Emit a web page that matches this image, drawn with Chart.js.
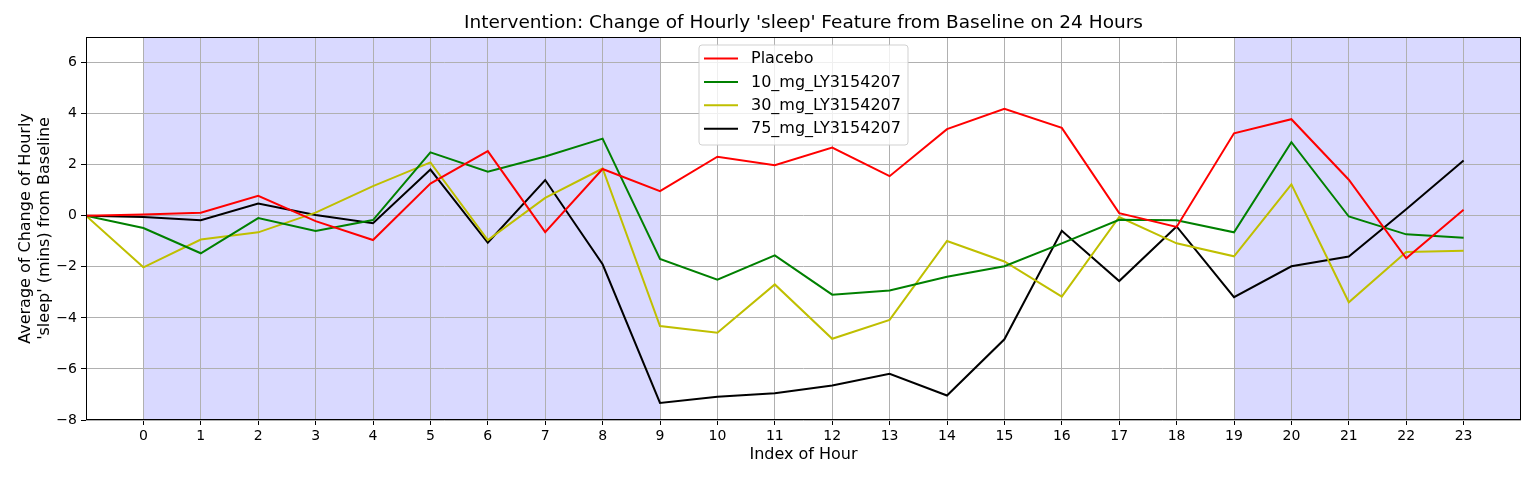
<!DOCTYPE html>
<html>
<head>
<meta charset="utf-8">
<script src="https://cdn.jsdelivr.net/npm/chart.js@4.4.1/dist/chart.umd.min.js"></script>
<style>
html,body{margin:0;padding:0;background:#fff;overflow:hidden;}
canvas{display:block;}
</style>
</head>
<body>
<canvas id="c" width="1536" height="479" style="width:1536px;height:479px"></canvas>
<script>
// ---- data ----
const hours = [-1, 0, 1, 2, 3, 4, 5, 6, 7, 8, 9, 10, 11, 12, 13, 14, 15, 16, 17, 18, 19, 20, 21, 22, 23];
const hourTicks = [0, 1, 2, 3, 4, 5, 6, 7, 8, 9, 10, 11, 12, 13, 14, 15, 16, 17, 18, 19, 20, 21, 22, 23];
const yTicks = [-8, -6, -4, -2, 0, 2, 4, 6];
const seriesNames = ["Placebo", "10_mg_LY3154207", "30_mg_LY3154207", "75_mg_LY3154207"];
const placebo = [0, 0.05, 0.12, 0.78, -0.21, -0.95, 1.26, 2.53, -0.64, 1.83, 0.96, 2.31, 1.98, 2.67, 1.55, 3.39, 4.19, 3.44, 0.10, -0.44, 3.23, 3.78, 1.41, -1.67, 0.23];
const mg10 = [0, -0.48, -1.47, -0.09, -0.60, -0.17, 2.48, 1.72, 2.32, 3.02, -1.69, -2.50, -1.55, -3.09, -2.93, -2.39, -1.98, -1.08, -0.16, -0.18, -0.65, 2.88, -0.03, -0.73, -0.86];
const mg30 = [0, -2.02, -0.93, -0.65, 0.12, 1.16, 2.09, -0.95, 0.70, 1.85, -4.32, -4.58, -2.69, -4.82, -4.08, -0.99, -1.79, -3.17, -0.05, -1.08, -1.59, 1.23, -3.39, -1.42, -1.37];
const mg75 = [0, -0.05, -0.18, 0.48, 0.03, -0.29, 1.81, -1.06, 1.40, -1.90, -7.33, -7.09, -6.95, -6.65, -6.19, -7.04, -4.84, -0.59, -2.56, -0.42, -3.19, -1.98, -1.60, 0.25, 2.16];
const shadeRanges = [[0, 9], [19, 24]];
const seriesColors = ["#ff0000", "#008000", "#bfbf00", "#000000"];

const FONT = "'DejaVu Sans', sans-serif";
const allSeries = [placebo, mg10, mg30, mg75];

const datasets = allSeries.map((vals, i) => ({
  label: seriesNames[i],
  data: hours.map((h, j) => ({x: h, y: vals[j]})),
  borderColor: seriesColors[i],
  backgroundColor: seriesColors[i],
  borderWidth: 2,
  pointRadius: 0,
  tension: 0,
  fill: false
}));

const decor = {
  id: 'decor',
  afterLayout(chart) {
    // centre the title over the plotting area, like the reference
    const a = chart.chartArea;
    if (chart.titleBlock) {
      chart.titleBlock.left = a.left;
      chart.titleBlock.right = a.right;
    }
  },
  beforeDraw(chart) {
    const {ctx, chartArea: a, scales: {x}} = chart;
    ctx.save();
    ctx.fillStyle = 'rgba(0,0,255,0.15)';
    shadeRanges.forEach(([s, e]) => {
      const x0 = x.getPixelForValue(s);
      const x1 = Math.min(x.getPixelForValue(e), a.right);
      ctx.fillRect(x0, a.top, x1 - x0, a.bottom - a.top);
    });
    ctx.restore();
  },
  afterDatasetsDraw(chart) {
    const {ctx, chartArea: a} = chart;
    ctx.save();
    // frame
    ctx.strokeStyle = '#000';
    ctx.lineWidth = 1;
    ctx.strokeRect(Math.round(a.left) + 0.5, Math.round(a.top) + 0.5,
      Math.round(a.right - a.left) - 1, Math.round(a.bottom - a.top) - 1);
    // legend
    const lx = a.left + 613, ly = a.top + 8, lw = 209, lh = 100, r = 3;
    ctx.beginPath();
    ctx.moveTo(lx + r, ly);
    ctx.lineTo(lx + lw - r, ly);
    ctx.quadraticCurveTo(lx + lw, ly, lx + lw, ly + r);
    ctx.lineTo(lx + lw, ly + lh - r);
    ctx.quadraticCurveTo(lx + lw, ly + lh, lx + lw - r, ly + lh);
    ctx.lineTo(lx + r, ly + lh);
    ctx.quadraticCurveTo(lx, ly + lh, lx, ly + lh - r);
    ctx.lineTo(lx, ly + r);
    ctx.quadraticCurveTo(lx, ly, lx + r, ly);
    ctx.closePath();
    ctx.fillStyle = 'rgba(255,255,255,0.8)';
    ctx.fill();
    ctx.strokeStyle = 'rgba(204,204,204,0.9)';
    ctx.lineWidth = 1;
    ctx.stroke();
    ctx.font = '16px ' + FONT;
    ctx.textBaseline = 'middle';
    ctx.textAlign = 'left';
    chart.data.datasets.forEach((ds, i) => {
      const cy = ly + 13.5 + i * 23.4;
      ctx.strokeStyle = ds.borderColor;
      ctx.lineWidth = 2;
      ctx.beginPath();
      ctx.moveTo(lx + 5, cy);
      ctx.lineTo(lx + 39, cy);
      ctx.stroke();
      ctx.fillStyle = '#000';
      ctx.fillText(ds.label, lx + 52, cy + 0.5);
    });
    ctx.restore();
  }
};

const minus = v => String(v).replace('-', '\u2212');

new Chart(document.getElementById('c'), {
  type: 'line',
  data: {datasets},
  plugins: [decor],
  options: {
    responsive: false,
    animation: false,
    devicePixelRatio: 1,
    layout: {padding: {left: 0, right: 15, top: 0, bottom: 0}},
    plugins: {
      legend: {display: false},
      tooltip: {enabled: false},
      title: {
        display: true,
        text: "Intervention: Change of Hourly 'sleep' Feature from Baseline on 24 Hours",
        color: '#000',
        font: {family: FONT, size: 18.5, weight: 'normal', lineHeight: 1.2},
        padding: {top: 12.4, bottom: 2.4}
      }
    },
    scales: {
      x: {
        type: 'linear',
        min: -1,
        max: 24,
        afterBuildTicks: s => { s.ticks = hourTicks.map(v => ({value: v})); },
        afterFit: s => { s.height = 59; },
        ticks: {autoSkip: false, maxRotation: 0, color: '#000', padding: 3,
          font: {family: FONT, size: 14}, callback: v => minus(v)},
        grid: {color: '#b0b0b0', lineWidth: 1, tickLength: 5, tickColor: '#000', tickWidth: 1},
        border: {display: false},
        title: {display: true, text: 'Index of Hour', color: '#000',
          font: {family: FONT, size: 16, lineHeight: 1.2}, padding: {top: 0, bottom: 14.4}}
      },
      y: {
        type: 'linear',
        min: -8,
        max: 7,
        afterBuildTicks: s => { s.ticks = yTicks.map(v => ({value: v})); },
        afterFit: s => { s.width = 86; },
        ticks: {color: '#000', padding: 4, font: {family: FONT, size: 14}, callback: v => minus(v)},
        grid: {color: '#b0b0b0', lineWidth: 1, tickLength: 5, tickColor: '#000', tickWidth: 1},
        border: {display: false},
        title: {display: true, text: ["Average of Change of Hourly", "'sleep' (mins) from Baseline"],
          color: '#000', font: {family: FONT, size: 16, lineHeight: 1.15}, padding: {top: 16.8, bottom: 0}}
      }
    }
  }
});
</script>
</body>
</html>
